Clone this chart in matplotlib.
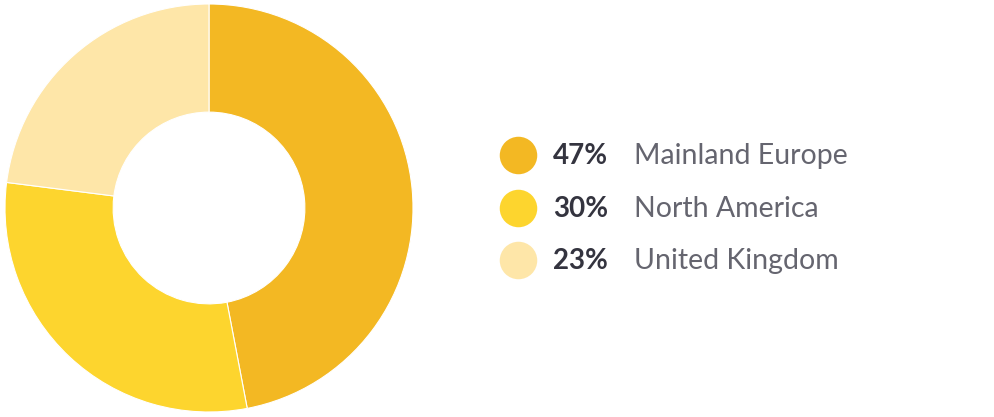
import matplotlib
matplotlib.use("Agg")
import matplotlib.pyplot as plt

regions = ["Mainland Europe", "North America", "United Kingdom"]
shares = [47, 30, 23]
colors = ["#F3B823", "#FDD52E", "#FEE6A8"]

W, H = 994, 417
fig = plt.figure(figsize=(W / 100, H / 100), dpi=100)

# donut
ax = fig.add_axes([5 / W, 5 / H, 408 / W, 408 / H])
ax.pie(shares, colors=colors, startangle=90, counterclock=False, radius=1,
       wedgeprops=dict(width=0.53, edgecolor="white", linewidth=0.8))
ax.set_xlim(-1, 1)
ax.set_ylim(-1, 1)
ax.set_aspect("equal")
ax.axis("off")

# legend drawn in pixel coordinates
lax = fig.add_axes([0, 0, 1, 1])
lax.set_xlim(0, W)
lax.set_ylim(H, 0)
lax.axis("off")
ys = [155, 208, 260]
for y, c, s, name in zip(ys, colors, shares, regions):
    lax.scatter([518], [y], s=27 ** 2, color=c, linewidths=0)
    lax.text(553, y + 1, f"{s}%", fontsize=20, fontweight="bold", color="#34343F",
             va="center", ha="left", family="Lato")
    lax.text(634, y + 1, name, fontsize=20.5, color="#65656F",
             va="center", ha="left", family="Lato")

fig.savefig("out.png", dpi=100)
